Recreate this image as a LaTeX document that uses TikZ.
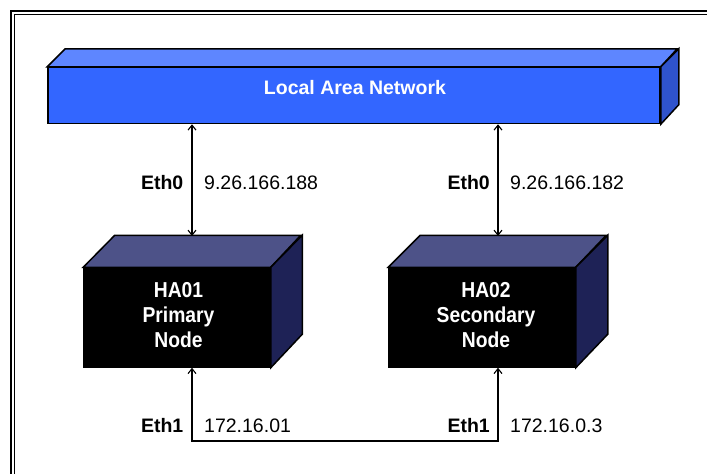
\documentclass[tikz,border=0pt]{standalone}
\usepackage{fontspec}
\setmainfont{Liberation Sans}
\usetikzlibrary{arrows.meta,calc}
\definecolor{lanfront}{HTML}{3366FF}
\definecolor{lantop}{HTML}{5E86FF}
\definecolor{lanside}{HTML}{2F53CC}
\definecolor{hatop}{HTML}{4D5288}
\definecolor{haside}{HTML}{1E2256}
\newcommand\hatext[1]{\scalebox{1}[1.12]{\begin{tabular}{@{}c@{}}#1\end{tabular}}}
\tikzset{
  face/.style={draw=black, line width=1.5pt, line join=miter},
  lanbox/.style={face, fill=lanfront, minimum width=612pt, minimum height=56pt, inner sep=0pt},
  habox/.style={face, fill=black, minimum width=186pt, minimum height=99pt, inner sep=0pt},
  hatxt/.style={inner sep=0pt, text=white, font=\bfseries\fontsize{19.3}{22}\selectfont},
  link/.style={line width=1.1pt, {Straight Barb[length=5pt,width=8pt]}-{Straight Barb[length=5pt,width=8pt]}},
  eth/.style={inner sep=0pt, font=\bfseries\fontsize{19.5}{23}\selectfont},
  ip/.style={inner sep=0pt, font=\fontsize{19.5}{23}\selectfont},
}
\begin{document}
\begin{tikzpicture}[x=1pt,y=-1pt]
\useasboundingbox (0,0) rectangle (707,474);
\fill[white] (0,0) rectangle (707,474);
% frame
\draw[line width=1.8pt] (11,474) -- (11,10.8) -- (707,10.8);
\draw[line width=1.3pt] (14.6,474) -- (14.6,14.2) -- (707,14.2);
% LAN
\node[lanbox] (lan) at (354,95.5) {};
\draw[face, fill=lantop] (lan.north west) -- ++(18,-18) -- ++(612,0) -- (lan.north east) -- cycle;
\draw[face, fill=lanside] (lan.north east) -- ++(18,-18) -- ++(0,56) -- (lan.south east) -- cycle;
\node[anchor=base, text=white, font=\bfseries\fontsize{19.5}{23}\selectfont] (lantext) at (355,94) {Local Area Network};
% HA01
\node[habox] (ha1) at (177,317.5) {};
\draw[face, fill=hatop] (ha1.north west) -- ++(31.5,-32) -- ++(186,0) -- (ha1.north east) -- cycle;
\draw[face, fill=haside] (ha1.north east) -- ++(31.5,-32) -- ++(0,99) -- (ha1.south east) -- cycle;
\node[hatxt] (t1) at (178.5,317.5) {\hatext{HA01\\Primary\\Node}};
% HA02
\node[habox] (ha2) at (482,317.5) {};
\draw[face, fill=hatop] (ha2.north west) -- ++(32,-32) -- ++(186,0) -- (ha2.north east) -- cycle;
\draw[face, fill=haside] (ha2.north east) -- ++(32,-32) -- ++(0,99) -- (ha2.south east) -- cycle;
\node[hatxt] (t2) at (486,317.5) {\hatext{HA02\\Secondary\\Node}};
% ports
\coordinate (p1) at (192,236);
\coordinate (p2) at (498,236);
\coordinate (q1) at (192,441);
\coordinate (q2) at (498,441);
\draw[link] (lan.south -| p1) -- (p1);
\draw[link] (lan.south -| p2) -- (p2);
\draw[link] (ha1.south -| q1) -- (q1) -- (q2) -- (ha2.south -| q2);
% labels
\node[eth, anchor=base east] (e01) at (183.5,189) {Eth0};
\node[ip, anchor=base west] (i01) at (204,189) {9.26.166.188};
\node[eth, anchor=base east] (e02) at (490,189) {Eth0};
\node[ip, anchor=base west] (i02) at (510,189) {9.26.166.182};
\node[eth, anchor=base east] (e11) at (183.5,432) {Eth1};
\node[ip, anchor=base west] (i11) at (204,432) {172.16.01};
\node[eth, anchor=base east] (e12) at (490,432) {Eth1};
\node[ip, anchor=base west] (i12) at (510,432) {172.16.0.3};
\end{tikzpicture}
\end{document}
